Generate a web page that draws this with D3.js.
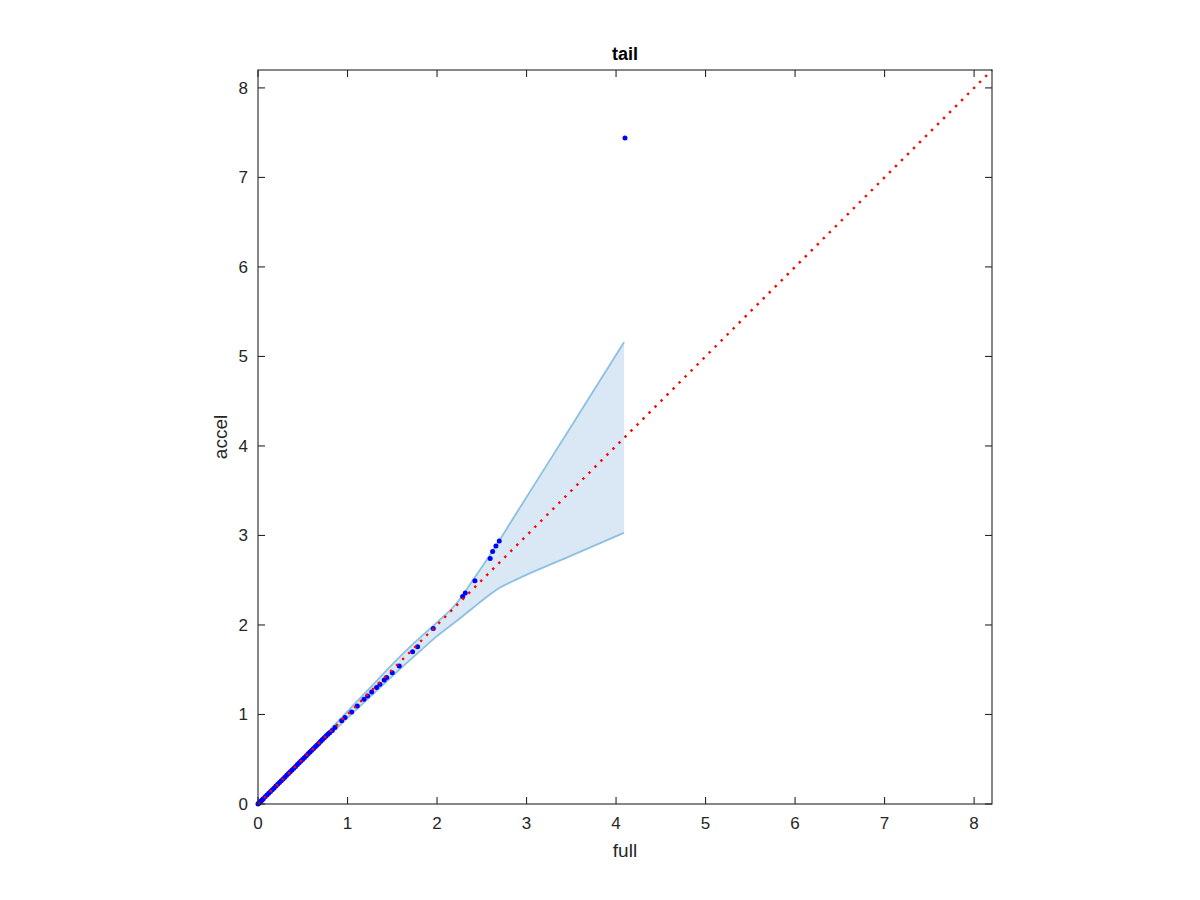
<!DOCTYPE html>
<html><head><meta charset="utf-8">
<script src="https://cdn.jsdelivr.net/npm/d3@7"></script>
<style>body{margin:0;background:#fff;} svg{display:block;}</style>
</head><body>
<script>
const titleText = "tail";
const xLabel = "full";
const yLabel = "accel";
const ticks = [0,1,2,3,4,5,6,7,8];
const axisMax = 8.2;

// quantile points (x = full, y = accel)
const fullQ  = [0,0.005,0.01,0.02,0.03,0.04,0.05,0.06,0.08,0.1,0.12,0.14,0.16,0.18,0.2,0.22,0.24,0.26,0.28,0.3,0.32,0.34,0.36,0.38,0.4,0.42,0.44,0.46,0.48,0.5,0.52,0.54,0.56,0.58,0.6,0.62,0.64,0.66,0.68,0.7,0.72,0.74,0.76,0.78,0.8,0.83,
  0.86,0.935,0.972,1.046,1.109,1.184,1.225,1.27,1.325,1.362,1.41,1.437,1.5,1.578,1.727,1.783,1.958,2.286,2.315,2.423,2.594,2.621,2.658,2.695,4.10];
const accelQ = [0,0.005,0.01,0.02,0.03,0.04,0.05,0.06,0.08,0.1,0.12,0.14,0.16,0.18,0.2,0.22,0.24,0.26,0.28,0.3,0.32,0.34,0.36,0.38,0.4,0.42,0.44,0.46,0.48,0.5,0.52,0.54,0.56,0.58,0.6,0.62,0.64,0.66,0.68,0.7,0.72,0.74,0.76,0.78,0.795,0.82,
  0.856,0.93,0.967,1.029,1.094,1.169,1.206,1.25,1.301,1.337,1.385,1.414,1.466,1.541,1.701,1.757,1.960,2.319,2.356,2.494,2.744,2.822,2.881,2.937,7.44];

// confidence band
const bandX  = [0,0.2,0.4,0.6,0.8,1.0,1.2,1.4,1.6,1.8,2.0,2.2,2.4,2.55,2.7,2.9,3.5,4.09];
const bandHi = [0.005,0.21,0.415,0.62,0.825,1.035,1.245,1.455,1.66,1.85,2.03,2.22,2.50,2.72,2.95,3.27,4.22,5.16];
const bandLo = [0,0.19,0.38,0.575,0.77,0.96,1.15,1.335,1.52,1.70,1.875,2.03,2.19,2.31,2.415,2.515,2.775,3.03];

const W=1200,H=900;
const L=258,R=992,T=70,B=804;
const svg=d3.select("body").append("svg").attr("width",W).attr("height",H);
const x=d3.scaleLinear().domain([0,axisMax]).range([L,R]);
const y=d3.scaleLinear().domain([0,axisMax]).range([B,T]);
const font="'Liberation Sans', Arial, Helvetica, sans-serif";

const band=bandX.map((v,i)=>({x:v,lo:bandLo[i],hi:bandHi[i]}));
const curve=d3.curveMonotoneX;
svg.append("path").datum(band)
  .attr("d",d3.area().curve(curve).x(d=>x(d.x)).y0(d=>y(d.lo)).y1(d=>y(d.hi)))
  .attr("fill","#d9e8f4").attr("stroke","none");
svg.append("path").datum(band).attr("d",d3.line().curve(curve).x(d=>x(d.x)).y(d=>y(d.hi)))
  .attr("fill","none").attr("stroke","#8cc0e2").attr("stroke-width",1.8);
svg.append("path").datum(band).attr("d",d3.line().curve(curve).x(d=>x(d.x)).y(d=>y(d.lo)))
  .attr("fill","none").attr("stroke","#8cc0e2").attr("stroke-width",1.8);

svg.append("g").selectAll("circle").data(fullQ.map((v,i)=>[v,accelQ[i]])).join("circle")
  .attr("cx",d=>x(d[0])).attr("cy",d=>y(d[1])).attr("r",2.5).attr("fill","#0000ff");

svg.append("line").attr("x1",x(0)).attr("y1",y(0)).attr("x2",x(axisMax)).attr("y2",y(axisMax))
  .attr("stroke","#ff0000").attr("stroke-width",2.4).attr("stroke-dasharray","2.4 6.1");

// axes
const ax=svg.append("g").attr("stroke","#262626").attr("stroke-width",1.1);
ax.append("rect").attr("x",L).attr("y",T).attr("width",R-L).attr("height",B-T).attr("fill","none");
const tl=7;
ticks.forEach(t=>{
  ax.append("line").attr("x1",x(t)).attr("x2",x(t)).attr("y1",B).attr("y2",B-tl);
  ax.append("line").attr("x1",x(t)).attr("x2",x(t)).attr("y1",T).attr("y2",T+tl);
  ax.append("line").attr("y1",y(t)).attr("y2",y(t)).attr("x1",L).attr("x2",L+tl);
  ax.append("line").attr("y1",y(t)).attr("y2",y(t)).attr("x1",R).attr("x2",R-tl);
});
const tg=svg.append("g").attr("font-family",font).attr("font-size",17).attr("fill","#262626");
ticks.forEach(t=>{
  tg.append("text").attr("x",x(t)).attr("y",B+25).attr("text-anchor","middle").text(t);
  tg.append("text").attr("x",L-10).attr("y",y(t)+6).attr("text-anchor","end").text(t);
});
svg.append("text").attr("x",(L+R)/2).attr("y",857).attr("text-anchor","middle")
  .attr("font-family",font).attr("font-size",19).attr("fill","#262626").text(xLabel);
svg.append("text").attr("transform",`translate(227,${(T+B)/2}) rotate(-90)`).attr("text-anchor","middle")
  .attr("font-family",font).attr("font-size",19).attr("fill","#262626").text(yLabel);
svg.append("text").attr("x",(L+R)/2).attr("y",60).attr("text-anchor","middle")
  .attr("font-family",font).attr("font-size",18).attr("font-weight","bold").attr("fill","#000").text(titleText);
</script>
</body></html>
